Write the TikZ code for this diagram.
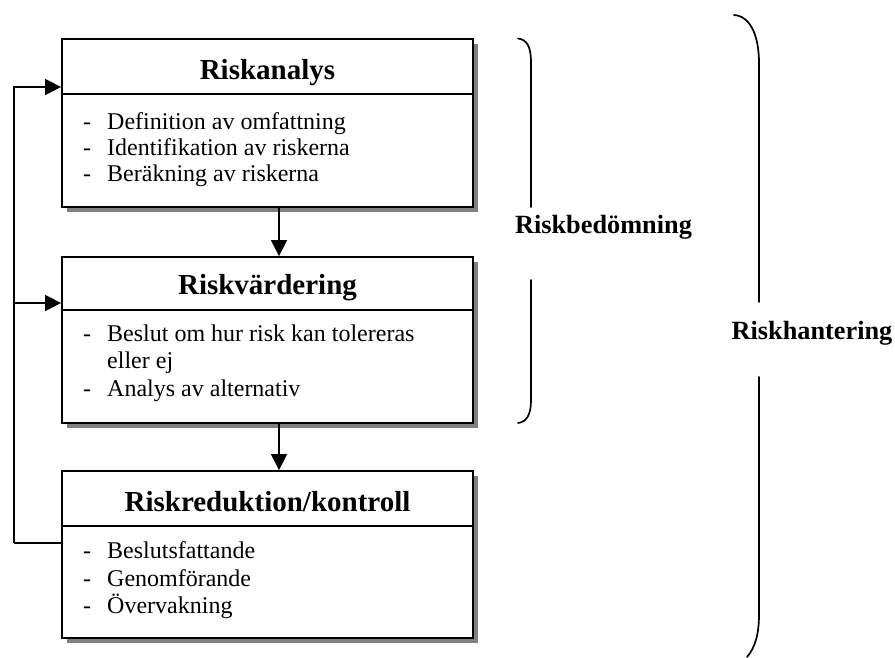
\documentclass[tikz,border=0pt]{standalone}
\usepackage{fontspec}
\setmainfont{Liberation Serif}
\usetikzlibrary{arrows.meta,shadows}
\begin{document}
\begin{tikzpicture}[x=1pt,y=-1pt,
  box/.style={draw,line width=1.8pt,fill=white,minimum width=411pt,inner sep=0pt,
    drop shadow={shadow xshift=5pt,shadow yshift=-5pt,fill=black!50,opacity=1}},
  title/.style={anchor=base,inner sep=0pt,font=\fontsize{29}{34}\selectfont\bfseries},
  itemdash/.style={anchor=base west,inner sep=0pt,font=\fontsize{24}{27}\selectfont},
  itemtext/.style={anchor=base west,inner sep=0pt,font=\fontsize{24}{27}\selectfont},
  lbl/.style={anchor=base,inner sep=0pt,font=\fontsize{26.3}{30}\selectfont\bfseries},
  arr/.style={line width=1.4pt,-{Triangle[length=16pt,width=16pt]}},
  conn/.style={line width=1.4pt},
  brk/.style={line width=1.7pt,line cap=round}]
\useasboundingbox (0,0) rectangle (895,657);
% boxes
\node[box,minimum height=168pt] (b1) at (267.5,123) {};
\node[box,minimum height=166pt] (b2) at (267.5,340) {};
\node[box,minimum height=167pt] (b3) at (267.5,554.5) {};
\draw[line width=1.8pt] ([yshift=-56pt]b1.north west) -- ([yshift=-56pt]b1.north east);
\draw[line width=1.8pt] ([yshift=-54pt]b2.north west) -- ([yshift=-54pt]b2.north east);
\draw[line width=1.8pt] ([yshift=-56pt]b3.north west) -- ([yshift=-56pt]b3.north east);
% titles
\node[title] (t1) at (267.5,79.3) {Riskanalys};
\node[title] (t2) at (267.5,294.3) {Riskvärdering};
\node[title] (t3) at (267.5,511) {Riskreduktion/kontroll};
% box 1 items
\node[itemdash] (d11) at (83,129.3) {-};
\node[itemtext] (i11) at (107,129.3) {Definition av omfattning};
\node[itemdash] (d12) at (83,155.5) {-};
\node[itemtext] (i12) at (107,155.5) {Identifikation av riskerna};
\node[itemdash] (d13) at (83,181.7) {-};
\node[itemtext] (i13) at (107,181.7) {Beräkning av riskerna};
% box 2 items
\node[itemdash] (d21) at (83,341.7) {-};
\node[itemtext] (i21) at (107,341.7) {Beslut om hur risk kan tolereras};
\node[itemtext] (i22) at (107,368.6) {eller ej};
\node[itemdash] (d23) at (83,396) {-};
\node[itemtext] (i23) at (107,396) {Analys av alternativ};
% box 3 items
\node[itemdash] (d31) at (83,558.5) {-};
\node[itemtext] (i31) at (107,558.5) {Beslutsfattande};
\node[itemdash] (d32) at (83,586) {-};
\node[itemtext] (i32) at (107,586) {Genomförande};
\node[itemdash] (d33) at (83,613) {-};
\node[itemtext] (i33) at (107,613) {Övervakning};
% down arrows
\draw[arr] ([xshift=11.5pt]b1.south) -- ([xshift=11.5pt]b2.north);
\draw[arr] ([xshift=11.5pt]b2.south) -- ([xshift=11.5pt]b3.north);
% feedback loop
\coordinate (fb) at (14,543);
\coordinate (br) at (14,303);
\draw[conn] ([yshift=11.5pt]b3.west) -- (fb);
\draw[arr] (fb) |- ([yshift=36pt]b1.west);
\draw[arr] (br) -- (br -| b2.west);
% labels
\node[lbl] (lb1) at (603.5,233) {Riskbedömning};
\node[lbl] (lb2) at (812,339) {Riskhantering};
% small bracket
\draw[brk] (518,38.5) .. controls (527,39.5) and (531,47) .. (531,62) -- (531,207);
\draw[brk] (531,280) -- (531,400) .. controls (531,414) and (527,422) .. (518,423);
% big bracket
\draw[brk] (734,15) .. controls (750,16) and (759,35) .. (759,63) -- (759,302);
\draw[brk] (759,377) -- (759,615) .. controls (759,634) and (755,648) .. (747,657);
\end{tikzpicture}
\end{document}
